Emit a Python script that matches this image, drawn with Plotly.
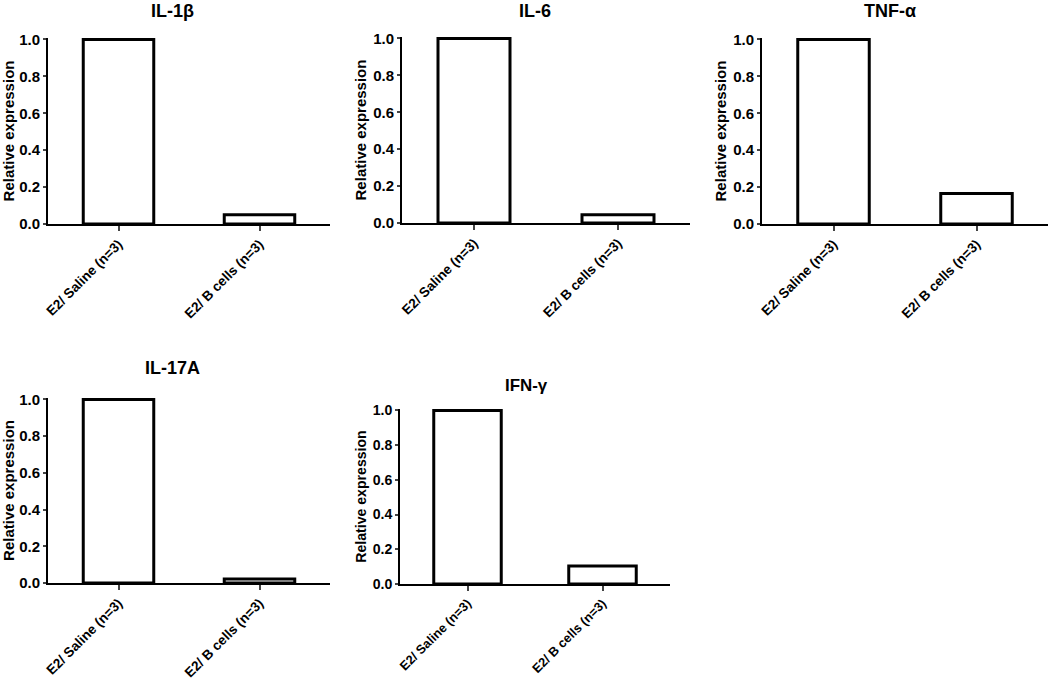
import plotly.graph_objects as go

# ---- data ----
categories = ["E2/ Saline (n=3)", "E2/ B cells (n=3)"]
panel_titles = ["IL-1β", "IL-6", "TNF-α", "IL-17A", "IFN-γ"]
il1b = [1.0, 0.05]
il6 = [1.0, 0.045]
tnfa = [1.0, 0.165]
il17a = [1.0, 0.022]
ifng = [1.0, 0.103]
y_ticks = [0.0, 0.2, 0.4, 0.6, 0.8, 1.0]
y_title = "Relative expression"

series = [il1b, il6, tnfa, il17a, ifng]

W, H = 1050, 680
# panel boxes in pixels: (x0, x1, ytop, ybottom), title position (cx, cy), font scale
panels = [
    ((48, 330, 38, 224), (173, 11), 1.0),
    ((402, 690, 37, 223), (535, 11), 1.0),
    ((762, 1048, 38, 224), (890, 11), 1.0),
    ((48, 330, 398, 583), (172, 368), 1.0),
    ((400, 670, 409, 584), (526, 385), 0.94),
]

FONT = "Liberation Sans, Arial, sans-serif"
fig = go.Figure()
layout = dict(
    width=W, height=H,
    margin=dict(l=0, r=0, t=0, b=0, autoexpand=False),
    paper_bgcolor="white", plot_bgcolor="white",
    showlegend=False,
    font=dict(family=FONT, color="black", size=14, weight="bold"),
    annotations=[],
)

for i, (vals, (box, tpos, sc)) in enumerate(zip(series, panels)):
    n = i + 1
    xa = "x" if n == 1 else f"x{n}"
    ya = "y" if n == 1 else f"y{n}"
    fig.add_trace(go.Bar(
        x=[0, 1], y=vals, width=0.5, xaxis=xa, yaxis=ya,
        marker=dict(color="white", line=dict(color="black", width=3)),
        hoverinfo="skip",
    ))
    x0, x1, yt, yb = box
    xkey = "xaxis" if n == 1 else f"xaxis{n}"
    ykey = "yaxis" if n == 1 else f"yaxis{n}"
    layout[xkey] = dict(
        domain=[x0 / W, x1 / W], anchor=ya, range=[-0.5, 1.5],
        tickmode="array", tickvals=[0, 1], ticktext=categories,
        tickangle=-45, ticks="outside", ticklen=5, tickwidth=1.5,
        showline=True, linecolor="black", linewidth=1.8,
        showgrid=False, zeroline=False, fixedrange=True,
        tickfont=dict(family=FONT, size=13.6 * sc, weight="bold", color="black"),
        automargin=False,
    )
    layout[ykey] = dict(
        domain=[1 - yb / H, 1 - yt / H], anchor=xa, range=[0, 1.008],
        tickmode="array", tickvals=y_ticks, tickformat=".1f",
        ticks="outside", ticklen=3, tickwidth=1.5,
        showline=True, linecolor="black", linewidth=1.8,
        showgrid=False, zeroline=False, fixedrange=True,
        tickfont=dict(family=FONT, size=15 * sc, weight="bold", color="black"),
        title=dict(text=y_title, standoff=3,
                   font=dict(family=FONT, size=15 * sc, weight="bold", color="black")),
        automargin=False,
    )
    layout["annotations"].append(dict(
        text=panel_titles[i], x=tpos[0] / W, y=1 - tpos[1] / H,
        xref="paper", yref="paper", showarrow=False,
        xanchor="center", yanchor="middle",
        font=dict(family=FONT, size=18 * sc, weight="bold", color="black"),
    ))

fig.update_layout(**layout)
fig.write_html("out.html", config={"displayModeBar": False},
               post_script="document.body.style.margin='0';")
